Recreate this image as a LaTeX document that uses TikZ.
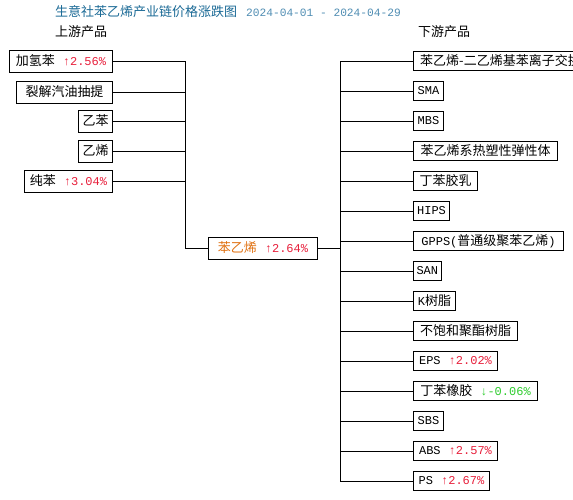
\documentclass[tikz,border=0pt]{standalone}
\usepackage{fontspec}
\setmainfont{Noto Sans CJK SC}
\newfontfamily\monoraw{Liberation Mono}
\newcommand{\monof}{\monoraw\fontsize{12}{14}\selectfont}
\definecolor{titlec}{HTML}{1B6A96}
\definecolor{datec}{HTML}{4F8DB3}
\definecolor{upc}{HTML}{E8203C}
\definecolor{downc}{HTML}{2ECC2E}
\definecolor{cenc}{HTML}{E07010}
\newcommand{\pctup}[1]{\hspace{8pt}{\color{upc}\monof ↑#1}}
\newcommand{\pctdown}[1]{\hspace{8pt}{\color{downc}\monof ↓#1}}
\tikzset{
  base/.style={font=\fontsize{13}{15}\selectfont},
  box/.style={base, draw, line width=1pt, inner xsep=3pt, inner ysep=0pt},
  lbox/.style={box, minimum height=22pt, anchor=east},
  rbox/.style={box, minimum height=19pt, anchor=west},
  cbox/.style={box, minimum height=22pt, anchor=west},
  conn/.style={line width=1pt},
}
\begin{document}
\begin{tikzpicture}[x=1pt,y=-1pt]
\useasboundingbox (0,0) rectangle (573,499);
\clip (0,0) rectangle (573,499);
\fill[white] (0,0) rectangle (573,499);
% titles
\node[base, anchor=west, inner sep=0pt, text=titlec] (title) at (55,12) {生意社苯乙烯产业链价格涨跌图\hspace{9pt}{\color{datec}\monoraw\fontsize{11.2}{13}\selectfont 2024-04-01 - 2024-04-29}};
\node[base, anchor=west, inner sep=0pt] (uplabel) at (55,32) {上游产品};
\node[base, anchor=west, inner sep=0pt] (downlabel) at (418,32) {下游产品};
% upstream
\node[lbox, minimum width=103pt] (u1) at (113,61) {加氢苯\pctup{2.56\%}};
\node[lbox, minimum width=96pt] (u2) at (113,92) {裂解汽油抽提};
\node[lbox, minimum width=34pt] (u3) at (113,121) {乙苯};
\node[lbox, minimum width=34pt] (u4) at (113,151) {乙烯};
\node[lbox, minimum width=88pt] (u5) at (113,181) {纯苯\pctup{3.04\%}};
% center
\node[cbox, minimum width=109pt] (c) at (208,248) {{\color{cenc}苯乙烯}\pctup{2.64\%}};
% downstream
\node[rbox, minimum width=200pt, align=left] (d1) at (413,61) {苯乙烯-二乙烯基苯离子交换树脂};
\node[rbox, minimum width=30pt] (d2) at (413,91) {{\monof SMA}};
\node[rbox, minimum width=30pt] (d3) at (413,121) {{\monof MBS}};
\node[rbox, minimum width=144pt] (d4) at (413,151) {苯乙烯系热塑性弹性体};
\node[rbox, minimum width=64pt] (d5) at (413,181) {丁苯胶乳};
\node[rbox, minimum width=36pt] (d6) at (413,211) {{\monof HIPS}};
\node[rbox, minimum width=150pt] (d7) at (413,241) {{\monof GPPS(}普通级聚苯乙烯{\monof )}};
\node[rbox, minimum width=25pt] (d8) at (413,271) {{\monof SAN}};
\node[rbox, minimum width=42pt] (d9) at (413,301) {{\monof K}树脂};
\node[rbox, minimum width=104pt] (d10) at (413,331) {不饱和聚酯树脂};
\node[rbox, minimum width=84pt] (d11) at (413,361) {{\monof EPS}\pctup{2.02\%}};
\node[rbox, minimum width=124pt] (d12) at (413,391) {丁苯橡胶\pctdown{-0.06\%}};
\node[rbox, minimum width=30pt] (d13) at (413,421) {{\monof SBS}};
\node[rbox, minimum width=84pt] (d14) at (413,451) {{\monof ABS}\pctup{2.57\%}};
\node[rbox, minimum width=76pt] (d15) at (413,481) {{\monof PS}\pctup{2.67\%}};
% connectors
\coordinate (LV) at (185,0);
\coordinate (RV) at (340,0);
\foreach \n in {u1,u2,u3,u4,u5} { \draw[conn] (\n.east) -- (\n.east -| LV); }
\draw[conn] (u1.east -| LV) -- (c.west -| LV) -- (c.west);
\draw[conn] (c.east) -- (c.east -| RV);
\draw[conn] (d1.west -| RV) -- (d15.west -| RV);
\foreach \n in {d1,d2,d3,d4,d5,d6,d7,d8,d9,d10,d11,d12,d13,d14,d15} { \draw[conn] (\n.west -| RV) -- (\n.west); }
\end{tikzpicture}
\end{document}
